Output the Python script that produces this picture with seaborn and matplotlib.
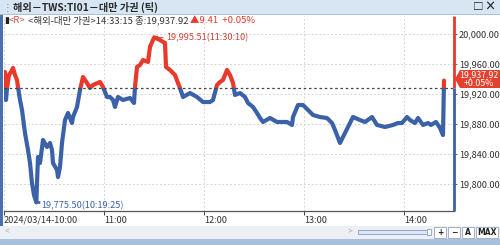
import numpy as np
import pandas as pd
import matplotlib
matplotlib.use("Agg")
import matplotlib.pyplot as plt
import matplotlib.dates as mdates
import matplotlib.transforms as mtransforms
from matplotlib.patches import Rectangle, Polygon
import seaborn as sns

# ---------------- data ----------------
session_date = "2024-03-14 10:00:00"
minutes_after_open = [
    0, 0.6, 1.2, 1.8, 3.0, 4.2, 5.4, 6.6, 7.8, 8.4, 9.6, 10.8, 12.6, 14.4, 15.6,
    16.8, 18.0, 19.42, 19.8, 20.4, 21.6, 23.4, 25.8, 27.6, 28.8, 29.4, 31.8, 32.4,
    33.6, 34.8, 36.6, 38.4, 40.8, 41.4, 43.8, 45.6, 47.4, 49.8, 51.6, 53.4, 57.6,
    59.4, 61.8, 63.6, 65.4, 66.6, 68.4, 71.4, 75.6, 78.0, 78.6, 79.8, 81.6, 83.4,
    86.4, 87.6, 89.4, 90.17, 93.6, 96.6, 97.2, 99.6, 102.6, 104.4, 105.6, 107.4,
    111.6, 115.8, 119.4, 123.6, 125.4, 127.8, 129.6, 131.4, 133.8, 135.6, 137.4,
    138.6, 141.6, 144.6, 146.4, 149.4, 151.8, 153.6, 155.4, 159.6, 163.8, 169.8,
    172.8, 173.4, 176.4, 179.4, 182.4, 185.4, 189.6, 193.8, 196.8, 198.6, 201.6,
    203.4, 206.4, 209.4, 213.6, 216.6, 220.8, 223.8, 228.6, 233.4, 236.4, 238.8,
    241.8, 243.6, 246.6, 248.4, 251.4, 254.4, 256.2, 259.2, 261.6, 263.4, 264.0,
]
prices = [
    19938.7, 19949.3, 19912.0, 19928.0, 19945.3, 19949.3, 19954.7, 19945.3, 19938.7,
    19929.3, 19912.0, 19898.7, 19868.0, 19845.3, 19828.0, 19801.3, 19785.3, 19775.5,
    19801.3, 19836.0, 19828.0, 19858.7, 19849.3, 19854.7, 19845.3, 19828.0, 19818.7,
    19809.3, 19822.7, 19854.7, 19885.3, 19894.7, 19881.3, 19889.3, 19902.7, 19925.3,
    19942.7, 19934.7, 19928.0, 19932.0, 19936.0, 19929.3, 19916.0, 19916.0, 19912.0,
    19902.7, 19916.0, 19912.0, 19914.7, 19908.0, 19929.3, 19956.0, 19958.7, 19965.3,
    19962.7, 19982.7, 19992.0, 19995.51, 19992.0, 19988.0, 19956.0, 19952.0, 19945.3,
    19934.7, 19928.0, 19916.0, 19921.3, 19916.0, 19909.3, 19909.3, 19912.0, 19932.0,
    19936.0, 19938.7, 19952.0, 19945.3, 19934.7, 19918.7, 19921.3, 19916.0, 19908.0,
    19902.7, 19894.7, 19888.0, 19882.7, 19888.0, 19882.7, 19882.7, 19878.7, 19889.3,
    19905.3, 19905.3, 19898.7, 19892.0, 19889.3, 19888.0, 19881.3, 19872.0, 19854.7,
    19862.7, 19876.0, 19889.3, 19885.3, 19882.7, 19889.3, 19878.7, 19876.0, 19878.7,
    19881.3, 19881.3, 19889.3, 19885.3, 19881.3, 19888.0, 19878.7, 19881.3, 19878.7,
    19882.7, 19874.7, 19865.3, 19937.92,
]
ref_price = 19928.51
last_price = 19937.92
change = 9.41
change_pct = 0.05
last_time = "14:33:15"
high_price, high_time, high_min = 19995.51, "11:30:10", 90.17
low_price, low_time, low_min = 19775.50, "10:19:25", 19.42
y_ticks = [19800, 19840, 19880, 19920, 19960, 20000]
x_tick_hours = [10, 11, 12, 13, 14]
x_tick_labels = ["2024/03/14-10:00", "11:00", "12:00", "13:00", "14:00"]
title_text = "해외－TWS:TI01－대만 가권 (틱)"
symbol_name = "<해외-대만 가권>"

# ---------------- styling ----------------
W, H = 500, 245
BLUE = "#3b62a8"
RED = "#e8392b"
ANN_RED = "#c8443a"
TXT = "#333333"
FONT = ["Noto Sans CJK KR", "DejaVu Sans"]

sns.set_theme(style="white")
plt.rcParams["font.family"] = FONT
plt.rcParams["axes.unicode_minus"] = False

def fx(x):
    return x / W

def fy(y):
    return 1 - y / H

t0 = pd.Timestamp(session_date)
df = pd.DataFrame({
    "time": t0 + pd.to_timedelta(minutes_after_open, unit="m"),
    "price": prices,
})

fig = plt.figure(figsize=(W / 100, H / 100), dpi=100)
fig.patch.set_facecolor("white")

# window chrome
fig.patches.append(Rectangle((0, fy(15)), 1, 15 / H, transform=fig.transFigure,
                             facecolor="#d8e6f4", edgecolor="none", zorder=0))
fig.patches.append(Rectangle((0, fy(15.5)), 1, 1 / H, transform=fig.transFigure,
                             facecolor="#a9c0da", edgecolor="none", zorder=0))
fig.patches.append(Rectangle((0, fy(226)), 2.5 / W, 211 / H, transform=fig.transFigure,
                             facecolor="#4a70ad", edgecolor="none", zorder=0))
fig.patches.append(Rectangle((0, fy(239)), 1, 13 / H, transform=fig.transFigure,
                             facecolor="#eceff3", edgecolor="none", zorder=0))
fig.patches.append(Rectangle((0, 0), 1, 6 / H, transform=fig.transFigure,
                             facecolor="#a7c1dd", edgecolor="none", zorder=0))
fig.text(fx(3), fy(7.5), "⋮", fontsize=7, color="#7a8a9a", va="center", ha="left")
fig.text(fx(13), fy(7.5), title_text, fontsize=7.3, color="#2a2a2a", va="center",
         ha="left", fontweight="bold")
fig.text(fx(478), fy(7.5), "□", fontsize=7.5, color="#222222", va="center", ha="center",
         fontweight="bold")
fig.text(fx(490), fy(7.5), "×", fontsize=8, color="#222222", va="center", ha="center",
         fontweight="bold")

# bottom scroll bar
fig.text(fx(5), fy(232), "<", fontsize=6, color="#b0b0b0", va="center", ha="left")
fig.text(fx(348), fy(232), ">", fontsize=6, color="#b0b0b0", va="center", ha="left")
fig.patches.append(Rectangle((fx(358), fy(234)), 72 / W, 4 / H, transform=fig.transFigure,
                             facecolor="#dbe7f5", edgecolor="#7f9cc0", lw=0.6))
fig.patches.append(Rectangle((fx(427), fy(235)), 4 / W, 6 / H, transform=fig.transFigure,
                             facecolor="white", edgecolor="#8aa0bb", lw=0.6))
for bx, bw, lab in [(434, 12, "+"), (448, 12, "−"), (462, 12, "A"), (476, 22, "MAX")]:
    fig.patches.append(Rectangle((fx(bx), fy(238)), bw / W, 11 / H,
                                 transform=fig.transFigure, facecolor="white",
                                 edgecolor="#9aa6b4", lw=0.6))
    fig.text(fx(bx + bw / 2), fy(232.5), lab, fontsize=5.5, color="#222222",
             va="center", ha="center", fontweight="bold", family=["DejaVu Sans"])

# ---------------- main axes ----------------
ax = fig.add_axes([fx(4), fy(211), 450 / W, 195 / H])
ax.set_facecolor("white")

sns.lineplot(data=df, x="time", y="price", ax=ax, color=BLUE, lw=3.0,
             estimator=None, sort=False)
sns.lineplot(data=df, x="time", y="price", ax=ax, color=RED, lw=3.0,
             estimator=None, sort=False)

ax.set_xlim(t0, t0 + pd.Timedelta(minutes=270))
ax.set_ylim(19764, 20024)

blend = mtransforms.blended_transform_factory(ax.transAxes, ax.transData)
blue_clip = Rectangle((0, 19000), 1, ref_price - 19000, transform=blend)
red_clip = Rectangle((0, ref_price), 1, 2000, transform=blend)
ax.lines[0].set_clip_path(blue_clip)
ax.lines[1].set_clip_path(red_clip)

# reference (previous close) line
ax.axhline(ref_price, color="#444444", lw=0.9, ls=(0, (2, 2.2)), zorder=3)

# grid
ax.grid(True, color="#d6d6d6", ls=(0, (2, 2)), lw=0.7)
ax.set_axisbelow(True)

# axes ticks
tick_times = [t0 + pd.Timedelta(hours=h - 10) for h in x_tick_hours]
ax.set_xticks(tick_times)
ax.set_xticklabels(x_tick_labels)
for lbl in ax.get_xticklabels():
    lbl.set_horizontalalignment("left")
ax.tick_params(axis="x", direction="out", length=3, width=0.7, color="#444444",
               labelsize=6.6, labelcolor=TXT, pad=0.5, bottom=True)
ax.yaxis.tick_right()
ax.set_yticks(y_ticks)
ax.set_yticklabels([f"{v:,.2f}" for v in y_ticks])
ax.tick_params(axis="y", direction="out", length=2.5, width=0.7, color="#666666",
               labelsize=6.6, labelcolor=TXT, pad=1, right=True, left=False)
ax.set_xlabel("")
ax.set_ylabel("")

for s in ["top", "left", "right"]:
    ax.spines[s].set_visible(False)
ax.spines["bottom"].set_color("#555555")
ax.spines["bottom"].set_linewidth(0.9)

# coloured right edge bar
xr = ax.get_xlim()[1]
ax.vlines(xr, ref_price, 20024, color=RED, lw=2, clip_on=False, zorder=5)
ax.vlines(xr, 19764, ref_price, color=BLUE, lw=2, clip_on=False, zorder=5)

# high / low annotations
ax.annotate(f"{high_price:,.2f}({high_time})",
            xy=(t0 + pd.Timedelta(minutes=high_min), high_price),
            xytext=(12, 0), textcoords="offset pixels", va="center", ha="left",
            fontsize=6.6, color=ANN_RED,
            arrowprops=dict(arrowstyle="-|>,head_length=0.25,head_width=0.12",
                            color=ANN_RED, lw=0.7, shrinkA=0, shrinkB=0))
ax.annotate(f"{low_price:,.2f}({low_time})",
            xy=(t0 + pd.Timedelta(minutes=low_min), low_price),
            xytext=(5, -3), textcoords="offset pixels", va="center", ha="left",
            fontsize=6.6, color=BLUE,
            arrowprops=dict(arrowstyle="-|>,head_length=0.25,head_width=0.12",
                            color=BLUE, lw=0.7, shrinkA=0, shrinkB=0))

# info line
t1 = fig.text(fx(4), fy(20.5), "▮", fontsize=6.5, color="#222222", va="center",
              ha="left", family=["DejaVu Sans"])
t2 = ax.annotate("<R>", xy=(1, 0.5), xycoords=t1, va="center", ha="left",
                 fontsize=6.8, color="#c0504d", annotation_clip=False)
t3 = ax.annotate(f" {symbol_name}{last_time} 종:{last_price:,.2f} ", xy=(1, 0.5),
                 xycoords=t2, va="center", ha="left", fontsize=6.8, color=TXT,
                 annotation_clip=False)
t4 = ax.annotate(f"▲{change:.2f}  +{change_pct:.2f}%", xy=(1, 0.5), xycoords=t3,
                 va="center", ha="left", fontsize=6.8, color=RED,
                 annotation_clip=False)

# last price tag on the right axis
tag = Polygon([[fx(455), fy(79)], [fx(460), fy(70)], [fx(500), fy(70)],
               [fx(500), fy(88)], [fx(460), fy(88)]], closed=True,
              transform=fig.transFigure, facecolor="#e5402e", edgecolor="none",
              zorder=10)
fig.patches.append(tag)
fig.text(fx(479), fy(74.5), f"{last_price:,.2f}", fontsize=6.4, color="white",
         va="center", ha="center", zorder=11)
fig.text(fx(479), fy(83.5), f"+{change_pct:.2f}%", fontsize=6.4, color="white",
         va="center", ha="center", zorder=11)

fig.savefig("out.png", dpi=100)
